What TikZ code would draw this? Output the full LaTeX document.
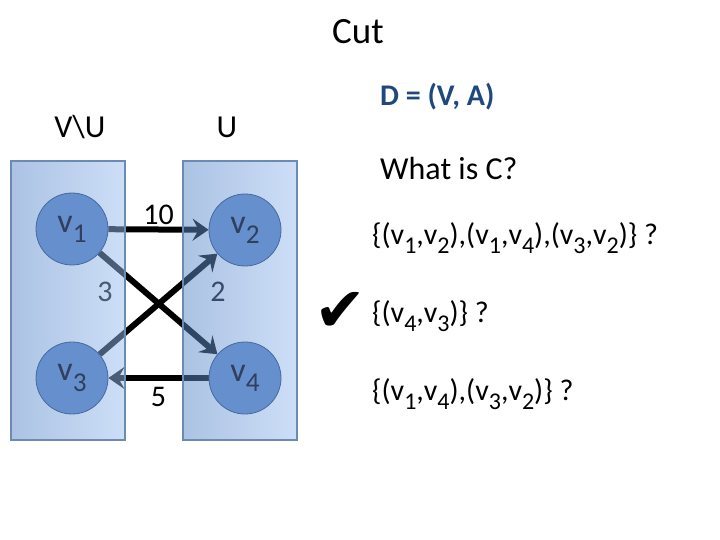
\documentclass[tikz,border=0pt]{standalone}
\usepackage{fontspec}
\setmainfont{Carlito}
\newfontfamily\symfont{DejaVu Sans}
\usepackage{graphicx}
\usetikzlibrary{arrows.meta,positioning}
\usepackage{xcolor}
\definecolor{cutnavy}{HTML}{1F497D}
\definecolor{setedge}{HTML}{6C8BB4}
\definecolor{setleft}{HTML}{5887C8}
\definecolor{setright}{HTML}{9BBEF0}
\definecolor{vertfill}{HTML}{668FCE}
\definecolor{vertdraw}{HTML}{46699F}
\definecolor{verttext}{HTML}{2F3F5C}
\pgfdeclarelayer{back}
\pgfdeclarelayer{front}
\pgfsetlayers{back,main,front}
\newcommand{\vtx}[1]{v\raisebox{-0.3em}{\scalebox{0.8}{#1}}}
\tikzset{
  vertex/.style={
    circle,
    draw=vertdraw,
    fill=vertfill,
    thick,
    minimum size=72pt,
    inner sep=0pt,
    text=verttext,
    font=\fontsize{34}{40}\selectfont
  },
  side/.style={
    draw=setedge,
    line width=1.2pt,
    left color=setleft,
    right color=setright,
    fill opacity=0.5
  },
  cutarc/.style={
    -{Stealth[length=16pt,width=22pt,inset=6pt]},
    line width=6pt,
    draw=black
  },
  weight/.style={font=\fontsize{30}{36}\selectfont, inner sep=2pt},
  answer/.style={anchor=west, font=\fontsize{30}{36}\selectfont, inner sep=0pt}
}

\begin{document}
\begin{tikzpicture}[x=1pt, y=-1pt]
\useasboundingbox (0,0) rectangle (720,540);
\node[font=\fontsize{37}{44}\selectfont] (title) at (358,32) {Cut};
\node[font=\fontsize{32}{38}\selectfont] (rest) at (80,127) {V\textbackslash U};
\node[font=\fontsize{32}{38}\selectfont] (part) at (227,127) {U};

% vertices on top
\begin{pgfonlayer}{front}
\node[vertex] (v1) at (72,229) {\vtx1};
\node[vertex] (v2) at (245,230) {\vtx2};
\node[vertex] (v3) at (72,378) {\vtx3};
\node[vertex] (v4) at (245,378) {\vtx4};
\end{pgfonlayer}

% arcs under the two sides
\begin{pgfonlayer}{back}
\draw[cutarc] (v1) -- node[weight, above] (w10) {10} (v2);
\draw[cutarc] (v1) -- (v4);
\draw[cutarc] (v3) -- (v2);
\draw[cutarc] (v4) -- node[weight, below, yshift=-4pt] (w5) {5} (v3);
\node[weight] (w3) at (105,292) {3};
\node[weight] (w2) at (218,292) {2};
\end{pgfonlayer}

\path[side] (11,161) rectangle (125,440);
\path[side] (183,161) rectangle (297,440);

\node[anchor=west, inner sep=0pt, text=cutnavy, font=\fontsize{30}{36}\selectfont\bfseries] (graph) at (380,97) {D = (V, A)};
\node[anchor=west, inner sep=0pt, font=\fontsize{32}{38}\selectfont] (ask) at (380,169) {What is C?};
\node[answer] (c1) at (372,238) {\{(\vtx1,\vtx2),(\vtx1,\vtx4),(\vtx3,\vtx2)\} ?};
\node[answer] (c2) at (372,316) {\{(\vtx4,\vtx3)\} ?};
\node[answer] (c3) at (372,394) {\{(\vtx1,\vtx4),(\vtx3,\vtx2)\} ?};
\node[font=\fontsize{62}{66}\selectfont] (tick) at (340,312) {\symfont ✔};
\end{tikzpicture}
\end{document}
